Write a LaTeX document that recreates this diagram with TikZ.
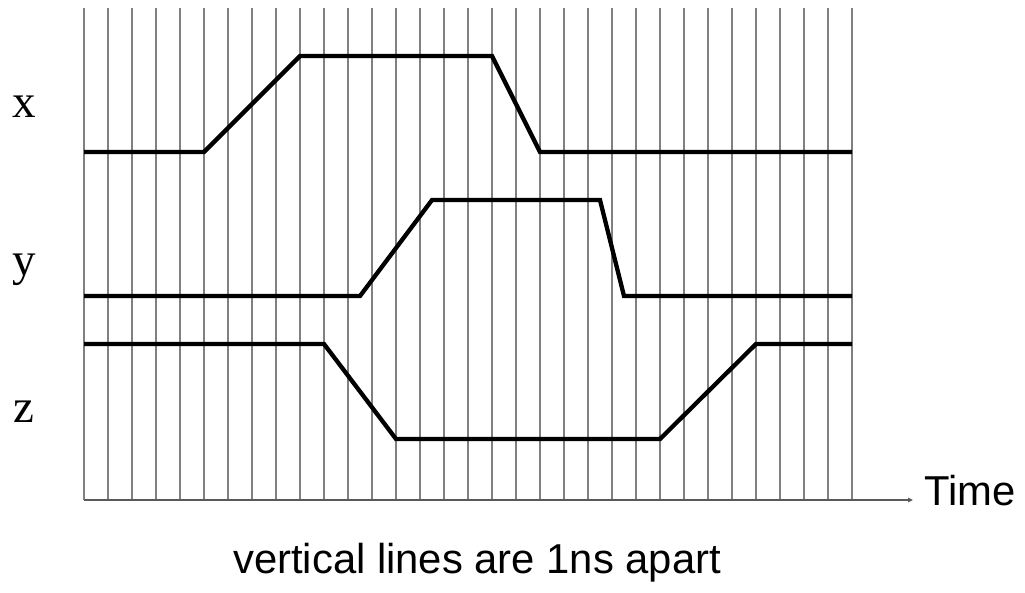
\documentclass[tikz,border=0pt]{standalone}
\usepackage{fontspec}
\setmainfont{Liberation Serif}
\newfontfamily\arialfont{Liberation Sans}
\usetikzlibrary{arrows.meta}
\definecolor{gridgray}{RGB}{128,128,128}
\definecolor{axisgray}{RGB}{90,90,90}
\begin{document}
\begin{tikzpicture}[x=1pt,y=-1pt,
  gridline/.style={draw=gridgray,line width=1.6pt},
  axisline/.style={draw=axisgray,line width=1.6pt,-{Triangle[length=5pt,width=4.5pt]}},
  signal/.style={draw=black,line width=4.3pt},
  siglabel/.style={anchor=base,inner sep=0pt,font=\fontsize{47}{52}\selectfont},
  sanslabel/.style={anchor=base west,inner sep=0pt,font=\arialfont\fontsize{41.8}{46}\selectfont}]
\useasboundingbox (0,0) rectangle (1025,593);
\foreach \k in {0,...,32} \draw[gridline] ({84+24*\k},8) -- ({84+24*\k},500);
\coordinate (axisstart) at (84,500);
\coordinate (axisend) at (913,500);
\draw[axisline] (axisstart) -- (axisend);
% signals
\draw[signal] (84,152) -- (204,152) -- (300,56) -- (492,56) -- (540,152) -- (852,152);
\draw[signal] (84,296) -- (360,296) -- (432,200) -- (600,200) -- (624,296) -- (852,296);
\draw[signal] (84,344) -- (324,344) -- (396,439) -- (660,439) -- (756,344) -- (852,344);
% labels
\node[siglabel] (lx) at (24,118) {x};
\node[siglabel] (ly) at (24,276) {y};
\node[siglabel] (lz) at (24,422) {z};
\node[sanslabel] (time) at (924,505) {Time};
\node[sanslabel] (note) at (233,573) {vertical lines are 1ns apart};
\end{tikzpicture}
\end{document}
